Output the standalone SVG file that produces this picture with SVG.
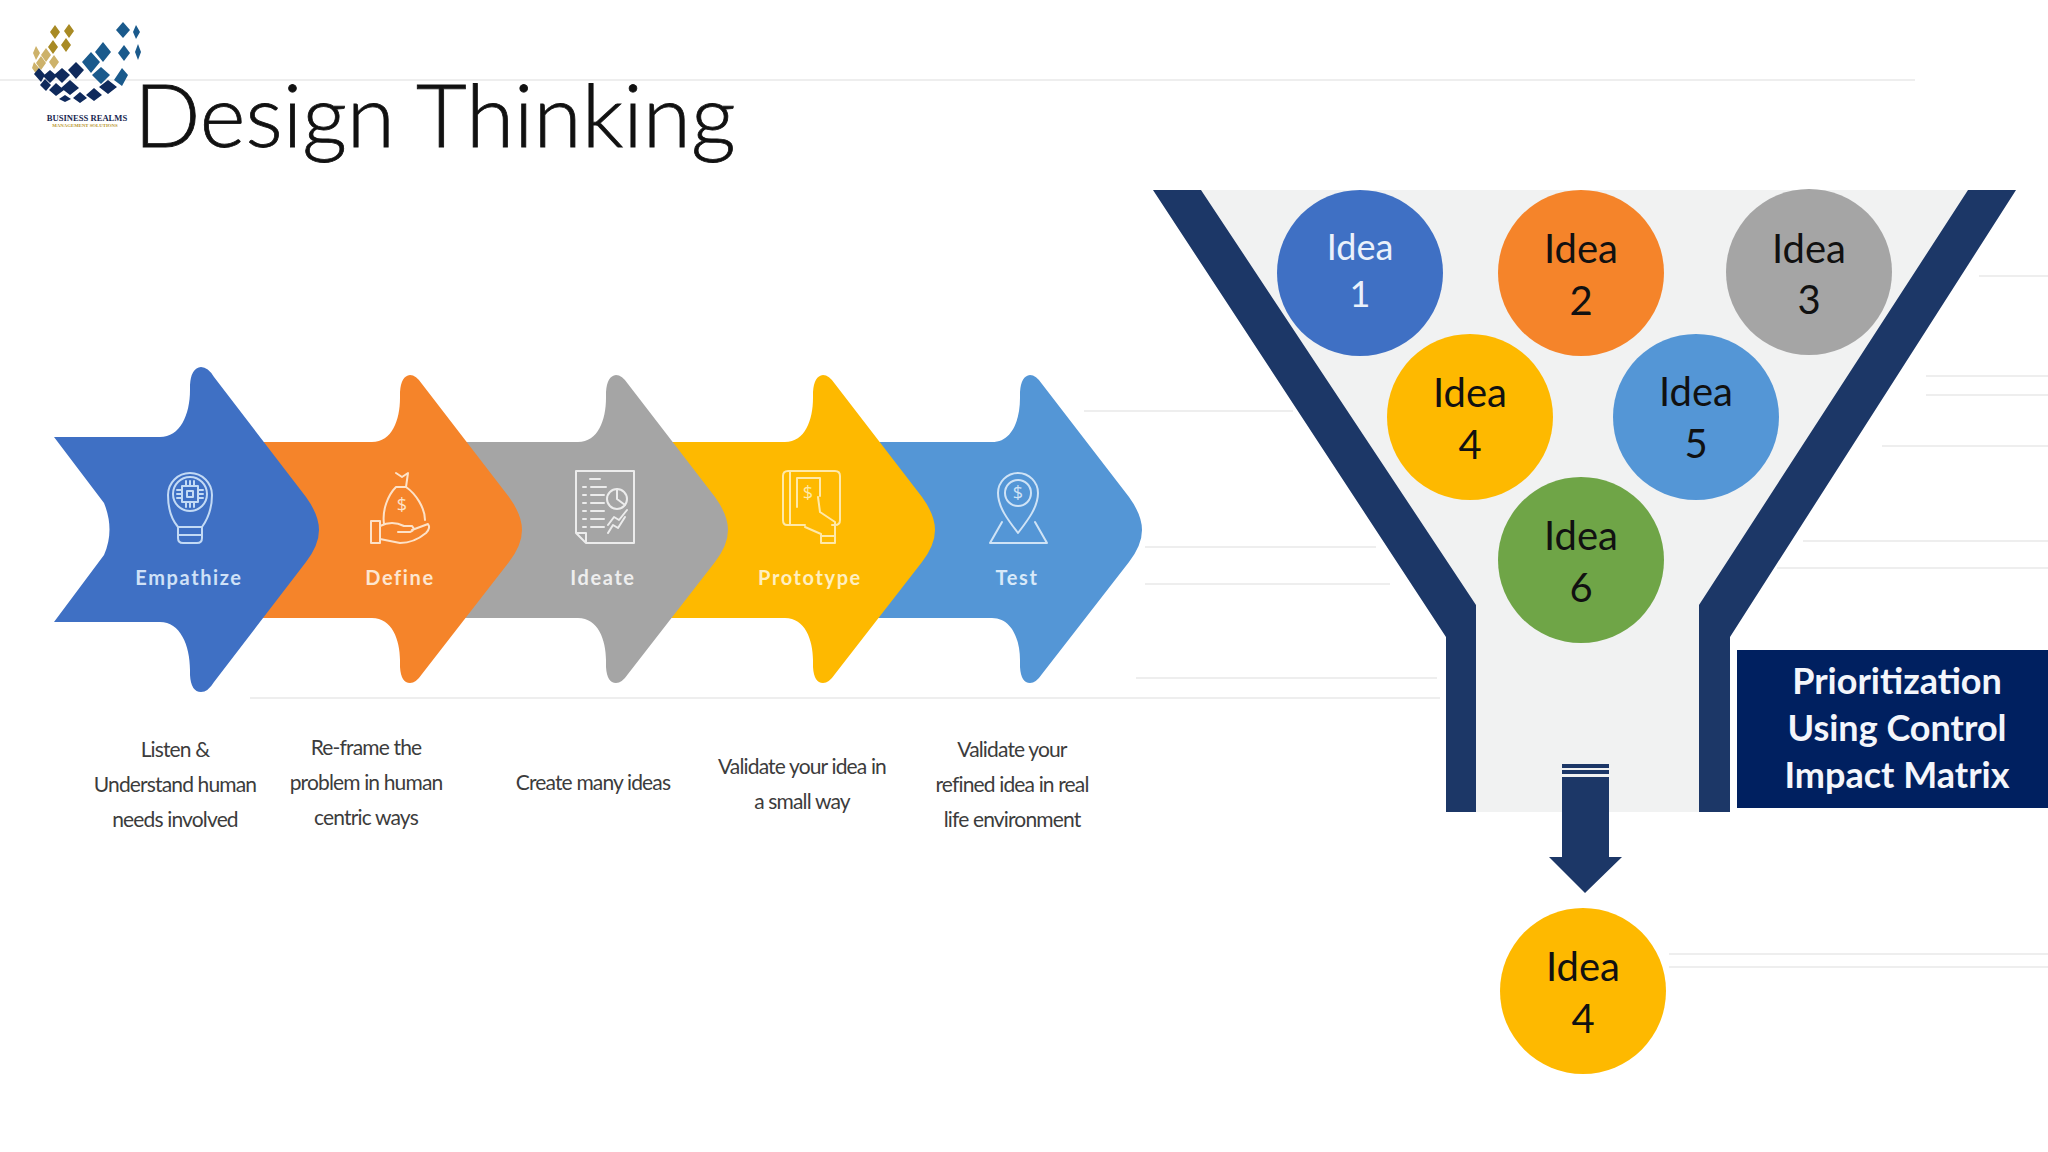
<svg xmlns="http://www.w3.org/2000/svg" xmlns:xlink="http://www.w3.org/1999/xlink" width="2048" height="1152" viewBox="0 0 2048 1152">
<style>
text{font-family:Lato,"Liberation Sans",sans-serif}
.title{font-size:87.5px;font-weight:300;fill:#111;stroke:#111;stroke-width:.8}
.lbl{font-size:20px;font-weight:700;letter-spacing:1.6px;text-anchor:middle}
.desc{font-size:21px;fill:#3c3c3c;text-anchor:middle;letter-spacing:-.85px}
.idea{font-size:40px;fill:#111;text-anchor:middle}
.box{font-size:36px;font-weight:700;fill:#f4f6fb;text-anchor:middle}
.ic{fill:none;stroke-width:2;stroke-linejoin:round;stroke-linecap:round}
.faint{stroke:#eeeeee;stroke-width:2;fill:none}
.band{fill:#1c3767}
.ds{font-size:18px;font-weight:400;text-anchor:middle;font-family:"Open Sans",sans-serif}
</style>
<defs>
<path id="arr" d="M250 442H372C392 442 400 420 400 398V392Q401 376 410 375Q416 375 422 384L509 497Q522 515 522 530Q522 545 509 562L422 674Q416 683 410 683Q401 683 400 667V660C400 640 392 618 372 618H250Z"/>
</defs>
<rect width="2048" height="1152" fill="#fff"/>
<g id="artifacts" class="faint">
<path d="M0 80H1915M250 698H1440M1084 411H1293M1145 547H1376M1145 584H1390M1136 678H1437M1979 276H2048M1926 376H2048M1926 395H2048M1882 446H2048M1803 541H2048M1777 568H2048M1669 954H2048M1669 967H2048"/>
</g>
<g id="logo">
<g fill="#a88a24"><path d="M55 25l5 7-5 7-5-7zM69 24l5 7-5 7-5-7zM66 38l5 7-5 7-5-7zM53 40l5 7-5 7-5-7z"/></g>
<g fill="#cdb26a"><path d="M36 46l4 7-4 7-3-7zM46 48l5 7-5 7-5-7zM41 56l5 7-5 7-5-7zM54 55l5 7-5 7-5-7zM34 62l5 6-2 7-5-7z"/></g>
<g fill="#1a5a8c"><path d="M123 22l7 8-7 8-7-8zM136 25l4 7-4 7-3-7zM103 42l8 10-8 10-8-10zM124 45l6 8-6 8-6-8zM138 44l3 8-3 8-3-8zM101 67l9 8-9 9-9-9zM122 68l6 7-6 11-8-6zM91 52l9 10-9 11-9-11z"/></g>
<g fill="#0f2a5c"><path d="M76 62l8 8-8 9-8-9zM62 68l8 7-8 8-8-8zM50 70l7 6-7 7-7-7zM39 68l6 7-4 7-7-8zM70 80l9 8-9 7-9-7zM56 83l8 7-8 6-7-6zM45 79l6 6-5 6-6-6zM108 80l9 7-9 7-9-7zM94 88l8 7-8 6-8-6zM80 92l7 6-7 5-7-5zM65 95l6 4-6 3-6-3z"/></g>
<text x="87" y="121" text-anchor="middle" style="font-family:'Liberation Serif',serif;font-size:8.6px;font-weight:700;fill:#17264f">BUSINESS REALMS</text>
<text x="85" y="127" text-anchor="middle" style="font-family:'Liberation Serif',serif;font-size:4.8px;font-weight:700;fill:#b8962e">MANAGEMENT SOLUTIONS</text>
</g>
<text class="title" x="134" y="147">Design Thinking</text>

<g id="node-test">
<use xlink:href="#arr" href="#arr" x="620" fill="#5496d6"/>
<g class="ic" stroke="#cfe3f6"><path d="M1018 533C1008 520 998 507 998 493A20 20 0 0 1 1038 493C1038 507 1028 520 1018 533Z"/><circle cx="1018" cy="493" r="13"/><path d="M1002 522L990 543H1047L1035 522"/></g>
<text class="ds" x="1018" y="499" fill="#cfe3f6">$</text>
<text class="lbl" x="1017" y="585" fill="#d8e9f9">Test</text>
</g>
<g id="node-prototype">
<use xlink:href="#arr" href="#arr" x="413" fill="#feb900"/>
<g class="ic" stroke="#ffe9a8"><path d="M790 525H787Q783 525 783 520V476Q783 471 788 471H835Q840 471 840 476V520Q840 525 835 525H832M790 471V525H805M797 507V478H820V496M818 497L820 512L835 522L835 543H821L821 534L805 527"/><path d="M821 536H835"/></g>
<text class="ds" x="808" y="499" fill="#ffe9a8">$</text>
<text class="lbl" x="810" y="585" fill="#ffefc0">Prototype</text>
</g>
<g id="node-ideate">
<use xlink:href="#arr" href="#arr" x="206" fill="#a5a5a5"/>
<g class="ic" stroke="#ececec"><path d="M576 471H634V543H586L576 533ZM576 533H586V543"/><circle cx="617" cy="499" r="10"/><path d="M617 489V499L625 505M590 479H600M583 487H586M591 487H606M583 495H586M591 495H604M583 503H586M591 503H604M583 511H586M591 511H604M583 519H586M591 519H604M583 527H586M591 527H604M608 533L613 525L618 528L625 517M608 525L614 517L619 520L627 510"/></g>
<text class="lbl" x="603" y="585" fill="#eeeeee">Ideate</text>
</g>
<g id="node-define">
<use xlink:href="#arr" href="#arr" fill="#f5842a"/>
<g class="ic" stroke="#fde2c8"><path d="M396 473L402 477L408 473L406 487C416 494 425 508 425 520M396 487C388 495 382 510 384 524M396 487H406"/><path d="M371 521H380V543H371ZM380 526Q392 520 404 526H412Q416 530 410 532H398M412 530L428 524Q431 528 426 533Q414 543 400 543Q390 541 380 539"/></g>
<text class="ds" x="402" y="511" fill="#fde2c8">$</text>
<text class="lbl" x="400" y="585" fill="#fde6d0">Define</text>
</g>
<g id="node-empathize">
<path d="M54 437H160C180 437 190 415 190 390V385Q191 368 201 367Q208 367 214 377L306 497Q319 515 319 530Q319 545 306 562L214 682Q208 692 201 692Q191 692 190 675V670C190 645 180 622 160 622H54L104 555Q115 530 104 503Z" fill="#3f70c4"/>
<g class="ic" stroke="#c3daf5"><path d="M178 527C172 520 168 510 168 495A22 22 0 0 1 212 495C212 510 207 520 202 527V538Q202 543 197 543H183Q178 543 178 538ZM178 527H202M178 535H202"/><circle cx="190" cy="494" r="17"/><rect x="182" y="486" width="16" height="16"/><rect x="187" y="491" width="6" height="6"/><path d="M186 481V486M190 481V486M194 481V486M186 502V507M190 502V507M194 502V507M177 490H182M177 494H182M177 498H182M198 490H203M198 494H203M198 498H203"/></g>
<text class="lbl" x="189" y="585" fill="#cfe1f7">Empathize</text>
</g>

<g id="desc-empathize"><text class="desc" x="175" y="757">Listen &amp;</text><text class="desc" x="175" y="792">Understand human</text><text class="desc" x="175" y="827">needs involved</text></g>
<g id="desc-define"><text class="desc" x="366" y="755">Re-frame the</text><text class="desc" x="366" y="790">problem in human</text><text class="desc" x="366" y="825">centric ways</text></g>
<g id="desc-ideate"><text class="desc" x="593" y="790">Create many ideas</text></g>
<g id="desc-prototype"><text class="desc" x="802" y="774">Validate your idea in</text><text class="desc" x="802" y="809">a small way</text></g>
<g id="desc-test"><text class="desc" x="1012" y="757">Validate your</text><text class="desc" x="1012" y="792">refined idea in real</text><text class="desc" x="1012" y="827">life environment</text></g>

<g id="funnel">
<path d="M1153 190H2016L1730 637V812H1446V637Z" fill="#f1f2f2"/>
<path class="band" d="M1153 190H1201L1476 605V812H1446V637Z"/>
<path class="band" d="M2016 190H1968L1699 605V812H1730V637Z"/>
</g>
<g id="idea-1"><circle cx="1360" cy="273" r="83" fill="#3f70c4"/><text class="idea" x="1360" y="260" style="fill:#eaf1fb;font-size:36px">Idea</text><text class="idea" x="1360" y="307" style="fill:#eaf1fb;font-size:36px">1</text></g>
<g id="idea-2"><circle cx="1581" cy="273" r="83" fill="#f5842a"/><text class="idea" x="1581" y="263">Idea</text><text class="idea" x="1581" y="315">2</text></g>
<g id="idea-3"><circle cx="1809" cy="272" r="83" fill="#a5a5a5"/><text class="idea" x="1809" y="263">Idea</text><text class="idea" x="1809" y="314">3</text></g>
<g id="idea-4"><circle cx="1470" cy="417" r="83" fill="#feb900"/><text class="idea" x="1470" y="407">Idea</text><text class="idea" x="1470" y="459">4</text></g>
<g id="idea-5"><circle cx="1696" cy="417" r="83" fill="#5496d6"/><text class="idea" x="1696" y="406">Idea</text><text class="idea" x="1696" y="458">5</text></g>
<g id="idea-6"><circle cx="1581" cy="560" r="83" fill="#6fa547"/><text class="idea" x="1581" y="550">Idea</text><text class="idea" x="1581" y="602">6</text></g>
<g id="matrix-box"><rect x="1737" y="650" width="311" height="158" fill="#002060"/><text class="box" x="1897" y="694">Prioritization</text><text class="box" x="1897" y="741">Using Control</text><text class="box" x="1897" y="788">Impact Matrix</text></g>
<g id="connectors">
<path class="band" d="M1562 777H1609V857H1622L1585 893L1549 857H1562Z"/>
<rect class="band" x="1562" y="764" width="47" height="4"/><rect class="band" x="1562" y="770" width="47" height="4"/>
</g>
<g id="idea-final"><circle cx="1583" cy="991" r="83" fill="#feb900"/><text class="idea" x="1583" y="981">Idea</text><text class="idea" x="1583" y="1033">4</text></g>
</svg>
